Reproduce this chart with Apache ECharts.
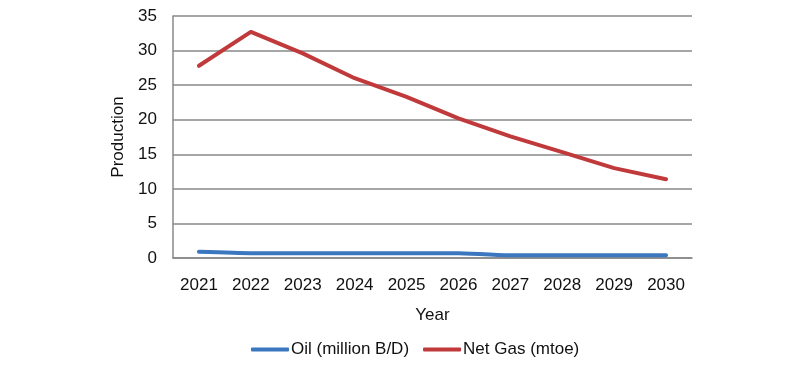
<!DOCTYPE html>
<html><head><meta charset="utf-8">
<script src="https://cdn.jsdelivr.net/npm/echarts@6/dist/echarts.min.js"></script>
<style>html,body{margin:0;padding:0;background:#fff}#c{width:800px;height:374px}</style>
</head><body><div id="c"></div>
<script>
const years = ['2021','2022','2023','2024','2025','2026','2027','2028','2029','2030'];
const oil = [0.9, 0.7, 0.7, 0.7, 0.7, 0.7, 0.4, 0.4, 0.4, 0.4];
const gas = [27.8, 32.7, 29.6, 26.0, 23.3, 20.2, 17.6, 15.3, 13.0, 11.4];
const yTicks = [0, 5, 10, 15, 20, 25, 30, 35];
const font = 'Liberation Sans, Arial, sans-serif';
const chart = echarts.init(document.getElementById('c'));
chart.setOption({
  animation: false,
  backgroundColor: '#fff',
  grid: {left: 173, right: 108, top: 16, bottom: 116},
  legend: {
    left: 251, top: 341, padding: 0, itemWidth: 38, itemHeight: 4, itemGap: 14,
    icon: 'roundRect',
    textStyle: {fontFamily: font, fontSize: 17, color: '#111', padding: [0,0,0,-3]},
    data: ['Oil (million B/D)', 'Net Gas (mtoe)']
  },
  xAxis: {
    type: 'category', data: years, boundaryGap: true,
    name: 'Year', nameLocation: 'middle', nameGap: 49,
    nameTextStyle: {fontFamily: font, fontSize: 17, color: '#111'},
    axisLine: {lineStyle: {color: '#888', width: 1.5}},
    axisTick: {show: false},
    axisLabel: {fontFamily: font, fontSize: 17, color: '#111', margin: 19}
  },
  yAxis: {
    type: 'value', min: 0, max: 35, interval: 5,
    name: 'Production', nameLocation: 'middle', nameGap: 44,
    nameTextStyle: {fontFamily: font, fontSize: 17, color: '#111'},
    axisLine: {show: true, lineStyle: {color: '#888', width: 1.5}},
    axisTick: {show: false},
    splitLine: {lineStyle: {color: '#888', width: 1.5}},
    axisLabel: {fontFamily: font, fontSize: 17, color: '#111', margin: 16,
      formatter: v => yTicks.includes(v) ? String(v) : ''}
  },
  series: [
    {name: 'Oil (million B/D)', type: 'line', data: oil, symbol: 'none', smooth: 0.2,
     lineStyle: {color: '#3A77BF', width: 4, cap: 'round'}, itemStyle: {color: '#3A77BF'}},
    {name: 'Net Gas (mtoe)', type: 'line', data: gas, symbol: 'none', smooth: false,
     lineStyle: {color: '#C0393B', width: 4, cap: 'round', join: 'round'}, itemStyle: {color: '#C0393B'}}
  ]
});
</script></body></html>
